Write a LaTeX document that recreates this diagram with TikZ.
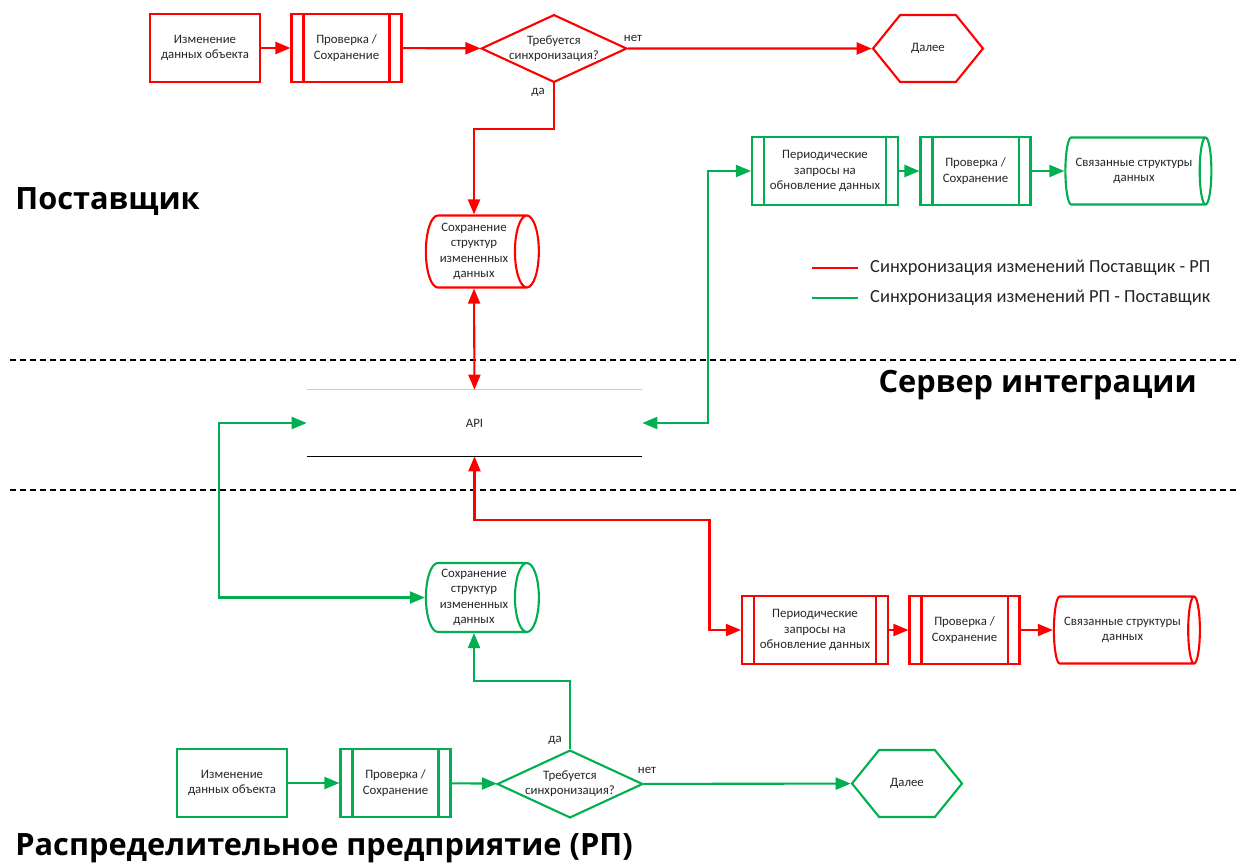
\documentclass[tikz,border=0pt]{standalone}
\usepackage{fontspec}
\setmainfont{Carlito}
\newfontfamily\headfont{Open Sans}
\usetikzlibrary{shapes.geometric,shapes.symbols,arrows.meta}
\definecolor{rp}{RGB}{255,0,0}
\definecolor{gp}{RGB}{0,176,80}
\definecolor{ink}{RGB}{38,38,38}
\tikzset{
  txt/.style={font=\fontsize{7.3}{8.7}\selectfont, text=ink, align=center},
  box/.style={txt, draw, rectangle, line width=1.2pt, inner sep=1pt,
    minimum width=2.2cm, minimum height=1.36cm},
  procbox/.style={box, draw=#1, append after command={
      ([xshift=0.26cm]\tikzlastnode.north west) edge[#1, line width=1.2pt] ([xshift=0.26cm]\tikzlastnode.south west)
      ([xshift=-0.26cm]\tikzlastnode.north east) edge[#1, line width=1.2pt] ([xshift=-0.26cm]\tikzlastnode.south east)}},
  pollbox/.style={procbox=#1, minimum width=2.92cm},
  dec/.style={txt, draw, diamond, aspect=2.15, line width=1.2pt, inner sep=0pt,
    minimum width=2.88cm, minimum height=1.34cm},
  nxt/.style={txt, draw, signal, signal to=east and west, signal pointer angle=102,
    line width=1.2pt, minimum width=2.2cm, minimum height=1.34cm},
  % cylinder lies on its side: height is along x, width along y
  store/.style={txt, draw, cylinder, shape border rotate=0, aspect=0.4, line width=1.2pt,
    inner sep=1pt, minimum height=2.26cm, minimum width=1.44cm},
  wide/.style={minimum height=2.92cm, minimum width=1.34cm},
  lbl/.style={txt},
  head/.style={font=\headfont\bfseries\fontsize{17.5}{20}\selectfont, text=black, inner sep=0pt},
  legtxt/.style={font=\fontsize{10.5}{12}\selectfont, text=ink, anchor=west},
  rline/.style={rp, line width=1.2pt},
  gline/.style={gp, line width=1.2pt},
  sep/.style={black, line width=1.6pt, dash pattern=on 0.12cm off 0.08cm},
}
\begin{document}
\begin{tikzpicture}[x=0.02cm, y=-0.02cm, >={Triangle[length=0.3cm,width=0.24cm]}]
\useasboundingbox (0,0) rectangle (1237,866);
% separators
\draw[sep] (10,360) -- (1237,360);
\draw[sep] (10,490) -- (1237,490);
\node[head, anchor=west] (hsup) at (15,202) {Поставщик};
\node[head, anchor=east] (hsrv) at (1197,385) {Сервер интеграции};
\node[head, anchor=west] (hrp) at (15,848) {Распределительное предприятие (РП)};
% supplier
\node[box, draw=rp] (chg1) at (205,48) {Изменение\\данных объекта};
\node[procbox=rp] (chk1) at (346.5,48) {Проверка /\\Сохранение};
\node[dec, draw=rp] (q1) at (554,48.5) {Требуется\\синхронизация?};
\node[nxt, draw=rp] (next1) at (928,48.5) {Далее};
\node[lbl] (no1) at (633,38) {нет};
\node[lbl] (yes1) at (538,92) {да};
\node[store, draw=rp] (store1) at (474,251.5) {Сохранение\\структур\\измененных\\данных};
\node[pollbox=gp] (poll1) at (825,171) {Периодические\\запросы на\\обновление данных};
\node[procbox=gp] (chk3) at (975.5,171) {Проверка /\\Сохранение};
\node[store, wide, draw=gp] (rel1) at (1134,171) {Связанные структуры\\данных};
% API
\node[txt, minimum width=6.7cm, minimum height=1.32cm] (api) at (474.5,423) {API};
\draw[black!20, line width=0.6pt] (api.north west) -- (api.north east);
\draw[black, line width=0.6pt] (api.south west) -- (api.south east);
% distribution company
\node[store, draw=gp, minimum width=1.38cm] (store2) at (474,597.5) {Сохранение\\структур\\измененных\\данных};
\node[pollbox=rp] (poll2) at (815,630) {Периодические\\запросы на\\обновление данных};
\node[procbox=rp] (chk4) at (964.5,630) {Проверка /\\Сохранение};
\node[store, wide, draw=rp] (rel2) at (1122.5,630) {Связанные структуры\\данных};
\node[box, draw=gp] (chg2) at (232,783) {Изменение\\данных объекта};
\node[procbox=gp] (chk2) at (395.5,783) {Проверка /\\Сохранение};
\node[dec, draw=gp] (q2) at (570,784) {Требуется\\синхронизация?};
\node[nxt, draw=gp] (next2) at (907,783.5) {Далее};
\node[lbl] (yes2) at (555,740) {да};
\node[lbl] (no2) at (647,770) {нет};
% legend
\coordinate (lr1) at (812,268);
\coordinate (lr2) at (858,268);
\coordinate (lg1) at (812,298);
\coordinate (lg2) at (858,298);
\draw[rline] (lr1) -- (lr2);
\draw[gline] (lg1) -- (lg2);
\node[legtxt] (legr) at (864,268) {Синхронизация изменений Поставщик - РП};
\node[legtxt] (legg) at (864,298) {Синхронизация изменений РП - Поставщик};
% red flow
\draw[rline, ->] (chg1) -- (chk1);
\draw[rline, ->] (chk1) -- (q1);
\draw[rline, ->] (q1) -- (next1);
\draw[rline, ->] (q1.south) -- ++(0,46) -| (store1.north);
\draw[rline, <->] (store1.south) -- (api.north);
\draw[rline, <->] (api.south) -- ++(0,64) -- ++(235,0) |- (poll2.west);
\draw[rline, ->] (poll2) -- (chk4);
\draw[rline, ->] (chk4) -- (rel2);
% green flow
\draw[gline, ->] (chg2) -- (chk2);
\draw[gline, ->] (chk2) -- (q2);
\draw[gline, ->] (q2) -- (next2);
\draw[gline, ->] (q2.north) -- ++(0,-68) -| (store2.south);
\draw[gline, <->] (store2.west) -- ++(-206,0) |- (api.west);
\draw[gline, <->] (api.east) -- ++(66,0) |- (poll1.west);
\draw[gline, ->] (poll1) -- (chk3);
\draw[gline, ->] (chk3) -- (rel1);
\end{tikzpicture}
\end{document}
